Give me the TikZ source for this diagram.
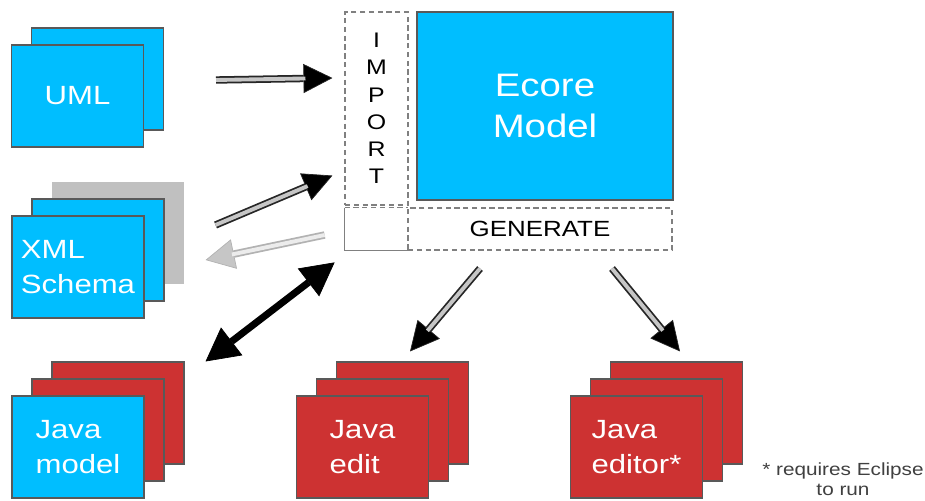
\documentclass[tikz,border=0pt]{standalone}
\usepackage{fontspec}
\setmainfont{Liberation Sans}[FakeStretch=1.18]
\usetikzlibrary{arrows.meta,positioning}

\definecolor{emfblue}{RGB}{0,190,255}
\definecolor{emfred}{RGB}{205,50,50}
\definecolor{emfgray}{RGB}{192,192,192}

\begin{document}
\begin{tikzpicture}
			[x=0.2mm,y=-0.2mm,on grid,node distance=3.4mm and 4mm,
			card/.style={rectangle,draw=black!65,line width=0.6pt,minimum width=26.4mm,minimum height=20.4mm,inner sep=0pt,
				text=white,align=left,font=\fontsize{15}{19.5}\selectfont},
			bluecard/.style={card,fill=emfblue},
			redcard/.style={card,fill=emfred},
			graycard/.style={card,draw=none,fill=emfgray},
			dashbox/.style={draw=gray,densely dashed,line width=0.6pt,inner sep=0pt},
			genarrow/.style={draw=black!85,line width=4.2pt,
				-{Triangle[length=5.8mm,width=5.8mm,line width=0.4pt,fill=black]},
				postaction={draw=gray!45,line width=2.2pt,shorten >=5.4mm,-}},
			backarrow/.style={draw=gray!60,line width=4.2pt,
				-{Triangle[length=5.8mm,width=6mm,line width=0.4pt,fill=gray!45]},
				postaction={draw=gray!15,line width=2.2pt,shorten >=5.4mm,-}},
			biarrow/.style={draw=black,line width=4pt,
				{Triangle[length=6.6mm,width=7mm,line width=0.4pt]}-{Triangle[length=6.6mm,width=7mm,line width=0.4pt]}}]
			
			\useasboundingbox (0,0) rectangle (925,500);
			
			% sources
			\node [bluecard](umlb) at (97.5,79)        {};
			\node [bluecard](umlf) [below left=of umlb] {UML};
			
			\node [graycard](xmlc) at (118,233)        {};
			\node [bluecard](xmlb) [below left=of xmlc] {};
			\node [bluecard](xmlf) [below left=of xmlb] {XML\\Schema};
			
			\node [redcard](jmc)  at (118,413)         {};
			\node [redcard](jmb)  [below left=of jmc]  {};
			\node [bluecard](jmf) [below left=of jmb]  {Java\\model};
			
			% generated
			\node [redcard](jec)  at (402.5,413)       {};
			\node [redcard](jeb)  [below left=of jec]  {};
			\node [redcard](jef)  [below left=of jeb]  {Java\\edit};
			
			\node [redcard](jrc)  at (676.5,413)       {};
			\node [redcard](jrb)  [below left=of jrc]  {};
			\node [redcard](jrf)  [below left=of jrb]  {Java\\editor*};
			
			% ecore core
			\node [card,fill=emfblue,minimum width=51.2mm,minimum height=37.6mm,align=center,
				font=\fontsize{18.5}{23}\selectfont](ecore) at (545,106) {Ecore\\Model};
			\node [dashbox,minimum width=12.6mm,minimum height=38.6mm,align=center,
				font=\fontsize{12}{15.5}\selectfont](import) at (376.5,108.5) {I\\M\\P\\O\\R\\T};
			\node [dashbox,minimum width=52.8mm,minimum height=8.4mm,
				font=\fontsize{12.5}{15}\selectfont](gen) at (540,229) {GENERATE};
			\node [minimum width=12.6mm,minimum height=8.4mm,inner sep=0pt](corner) at (376.5,229) {};
			\draw [dashbox] (corner.north west) -- (corner.north east);
			\draw [gray,line width=0.6pt] (corner.north west) -- (corner.south west) -- (corner.south east);
			
			\node [align=center,text=black!75,font=\fontsize{10}{11.5}\selectfont](note) at (843,479)
				{* requires Eclipse\\to run};
			
			% arrows
			\draw [genarrow]  ([shift={(52,1)}]umlb.east)       -- ([shift={(-12,-30.5)}]import.west);
			\draw [genarrow]  ([shift={(31,-8)}]xmlc.east)      -- ([shift={(-12,-30)}]import.south west);
			\draw [backarrow] ([shift={(-20,6)}]corner.west)    -- ([shift={(21,27)}]xmlc.east);
			\draw [biarrow]   ([shift={(-10,12)}]corner.south west) -- ([shift={(21,0)}]jmc.north east);
			\draw [genarrow]  ([shift={(-60,18)}]gen.south)     -- ([shift={(7.5,-10)}]jec.north);
			\draw [genarrow]  ([shift={(72,18)}]gen.south)      -- ([shift={(3.5,-10)}]jrc.north);
			
\end{tikzpicture}
\end{document}
